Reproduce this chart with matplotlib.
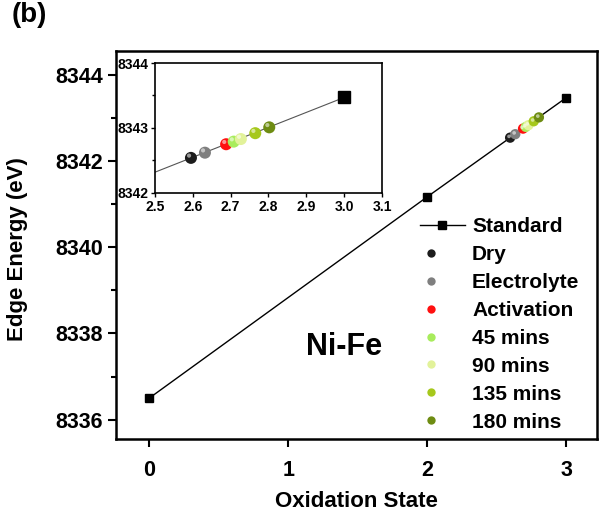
import numpy as np
import matplotlib
matplotlib.use('Agg')
import matplotlib.pyplot as plt
from matplotlib.legend_handler import HandlerTuple

plt.rcParams['font.family'] = ['Liberation Sans', 'DejaVu Sans']
plt.rcParams['font.weight'] = 'bold'

# standard references
std_x = [0, 2, 3]
std_y = [8336.50, 8341.17, 8343.47]

# samples (oxidation state, edge energy)
names = ['Dry', 'Electrolyte', 'Activation', '45 mins', '90 mins', '135 mins', '180 mins']
ox = [2.595, 2.632, 2.688, 2.708, 2.727, 2.765, 2.802]
edge = [8342.54, 8342.62, 8342.75, 8342.79, 8342.83, 8342.92, 8343.01]
colors = ['#1c1c1c', '#7f7f7f', '#ff1010', '#a8ec5c', '#e2f29a', '#a6c81c', '#6e8c12']

fig = plt.figure(figsize=(6.05, 5.29), dpi=100)
ax = fig.add_axes([0.1917, 0.1701, 0.7951, 0.7335])


def spheres(a, x, y, c, s, hs, dx, dy):
    a.scatter(x, y, s=s, c=c, edgecolors='none', zorder=3)
    # little highlight to mimic the shaded balls
    a.scatter(np.array(x) + dx, np.array(y) + dy, s=hs, c='white', alpha=0.55,
              edgecolors='none', zorder=4)


line, = ax.plot(std_x, std_y, '-s', color='black', lw=1, ms=6)
spheres(ax, ox, edge, colors, 55, 7, -0.008, 0.03)

ax.set_xlim(-0.24, 3.22)
ax.set_ylim(8335.55, 8344.55)
ax.set_xticks([0, 1, 2, 3])
ax.set_yticks([8336, 8338, 8340, 8342, 8344])
ax.set_yticks([8337, 8339, 8341, 8343], minor=True)
ax.tick_params(axis='both', which='major', direction='out', length=6, width=1.5, labelsize=15.5)
ax.tick_params(axis='x', pad=9)
ax.tick_params(axis='y', which='minor', direction='out', length=3.5, width=1.5)
for sp in ax.spines.values():
    sp.set_linewidth(1.8)
ax.set_xlabel('Oxidation State', fontsize=16, fontweight='bold')
ax.set_ylabel('Edge Energy (eV)', fontsize=16, fontweight='bold')
ax.xaxis.set_label_coords(0.5, -0.135)
ax.yaxis.set_label_coords(-0.183, 0.49)
ax.text(1.40, 8337.69, 'Ni-Fe', fontsize=22, fontweight='bold', ha='center', va='center')
fig.text(0.02, 0.997, '(b)', fontsize=20, fontweight='bold', ha='left', va='top')

# legend
handles = [line]
for c in colors:
    h1, = ax.plot([], [], 'o', color=c, ms=6, mec='none')
    h2, = ax.plot([], [], 'o', color='white', alpha=0.55, ms=2.2, mec='none')
    handles.append((h1, h2))
fig.legend(handles, ['Standard'] + names, loc='upper left', frameon=False,
           fontsize=15, handlelength=2.15, labelspacing=0.43, handletextpad=0.35,
           borderpad=0, borderaxespad=0,
           bbox_to_anchor=(420 / 605, 1 - 217 / 529),
           handler_map={tuple: HandlerTuple(ndivide=None)})

# inset
ins = fig.add_axes([0.2562, 0.6352, 0.3752, 0.2457])
ins.plot(std_x[1:], std_y[1:], '-', color='#555555', lw=0.8)
ins.plot(std_x[2:], std_y[2:], 's', color='black', ms=8)
spheres(ins, ox, edge, colors, 75, 9, -0.005, 0.035)
ins.set_xlim(2.5, 3.1)
ins.set_ylim(8342, 8344)
ins.set_xticks([2.5, 2.6, 2.7, 2.8, 2.9, 3.0, 3.1])
ins.set_yticks([8342, 8343, 8344])
ins.set_yticks([8342.5, 8343.5], minor=True)
ins.tick_params(axis='both', direction='out', length=3, width=1, labelsize=10, pad=2)
ins.tick_params(axis='y', which='minor', direction='out', length=2, width=1)
ins.xaxis.set_major_formatter(matplotlib.ticker.FormatStrFormatter('%.1f'))
for sp in ins.spines.values():
    sp.set_linewidth(1.2)

fig.savefig('out.png', dpi=100)
